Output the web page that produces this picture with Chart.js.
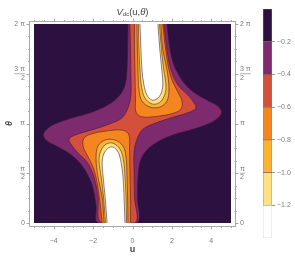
<!DOCTYPE html>
<html>
<head>
<meta charset="utf-8">
<script src="https://cdn.jsdelivr.net/npm/chart.js@4.4.0/dist/chart.umd.min.js"></script>
<style>
  html, body { margin: 0; padding: 0; background: #fff; }
  #wrap { position: relative; width: 295px; height: 259px; }
  #main { position: absolute; left: 0; top: 0; }
  #bar { position: absolute; left: 255px; top: 0; }
</style>
</head>
<body>
<div id="wrap">
  <canvas id="main" width="295" height="259"></canvas>
  <canvas id="bar" width="40" height="259"></canvas>
</div>
<script>
// axes
const uRange = [-5, 5];
const thetaRange = [0, 2 * Math.PI];
const xTicks = [-4, -2, 0, 2, 4];
const xTickLabels = ['\u22124', '\u22122', '0', '2', '4'];
const xMinorTicks = [-5, -4.5, -3.5, -3, -2.5, -1.5, -1, -0.5, 0.5, 1, 1.5, 2.5, 3, 3.5, 4.5, 5];
const yTicks = [0, Math.PI / 2, Math.PI, 3 * Math.PI / 2, 2 * Math.PI];
const yTickLabels = ['0', ['\u03c0', '2'], '\u03c0', ['3 \u03c0', '2'], '2 \u03c0'];
const yMinorTicks = [1, 2, 3, 5, 6, 7, 9, 10, 11, 13, 14, 15].map(k => k * Math.PI / 8);

// colour bar
const levels = [0, -0.2, -0.4, -0.6, -0.8, -1.0, -1.2, -1.4];
const levelTicks = [-0.2, -0.4, -0.6, -0.8, -1.0, -1.2];
const bandColors = ['#2c1140', '#7e2a6e', '#d5503b', '#f5851f', '#fbb22f', '#fde07f', '#ffffff'];

// contour regions, [u, theta]
const plotArea = [[-5, 0], [5, 0], [5, 6.283], [-5, 6.283]];
const purpleRegion = [
  [-0.23, 6.28], [-0.25, 5.46], [-0.28, 4.83], [-0.38, 4.36], [-0.68, 4.01], [-1.24, 3.73], [-2.05, 3.50],
  [-3.06, 3.32], [-3.92, 3.13], [-4.33, 2.97], [-4.53, 2.78],
  [-4.33, 2.59], [-3.87, 2.43], [-3.32, 2.24], [-2.81, 1.99], [-2.41, 1.67], [-2.05, 1.20], [-1.85, 0.56], [-1.75, 0],
  [0.23, 0], [0.25, 0.82], [0.28, 1.45], [0.38, 1.92], [0.68, 2.27], [1.24, 2.55], [2.05, 2.78],
  [3.06, 2.96], [3.92, 3.15], [4.33, 3.31], [4.53, 3.50],
  [4.33, 3.69], [3.87, 3.85], [3.32, 4.04], [2.81, 4.29], [2.41, 4.61], [2.05, 5.08], [1.85, 5.72], [1.75, 6.28]
];
const redRegion = [
  [-0.13, 6.28], [-0.10, 5.46], [-0.08, 4.67], [-0.08, 4.04], [-0.23, 3.63], [-0.53, 3.32], [-1.14, 3.13],
  [-2.05, 2.94], [-2.76, 2.81], [-3.22, 2.65],
  [-3.06, 2.43], [-2.76, 2.21], [-2.30, 1.92], [-1.95, 1.45], [-1.75, 0.82], [-1.59, 0],
  [0.13, 0], [0.10, 0.82], [0.08, 1.61], [0.08, 2.24], [0.23, 2.65], [0.53, 2.96], [1.14, 3.15],
  [2.05, 3.34], [2.76, 3.47], [3.22, 3.63],
  [3.06, 3.85], [2.76, 4.07], [2.30, 4.36], [1.95, 4.83], [1.75, 5.46], [1.59, 6.28]
];
const orangeUpper = [[0.10, 6.28], [0.10, 5.46], [0.13, 4.67], [0.15, 3.88], [0.18, 3.50], [0.48, 3.35], [1.39, 3.38], [2.10, 3.47], [2.46, 3.60], [2.51, 3.85], [2.30, 4.14], [2.00, 4.52], [1.80, 4.99], [1.65, 5.62], [1.54, 6.28]];
const orangeLower = [[-0.10, 0], [-0.10, 0.82], [-0.13, 1.61], [-0.15, 2.40], [-0.18, 2.78], [-0.48, 2.93], [-1.39, 2.90], [-2.10, 2.81], [-2.46, 2.68], [-2.51, 2.43], [-2.30, 2.14], [-2.00, 1.76], [-1.80, 1.29], [-1.65, 0.66], [-1.54, 0]];
const amberUpper = [[0.23, 6.28], [0.25, 5.46], [0.28, 4.77], [0.33, 4.20], [0.48, 3.85], [0.89, 3.66], [1.39, 3.66], [1.75, 3.85], [1.85, 4.23], [1.75, 4.83], [1.54, 5.46], [1.44, 6.28]];
const amberLower = [[-0.23, 0], [-0.25, 0.82], [-0.28, 1.51], [-0.33, 2.08], [-0.48, 2.43], [-0.89, 2.62], [-1.39, 2.62], [-1.75, 2.43], [-1.85, 2.05], [-1.75, 1.45], [-1.54, 0.82], [-1.44, 0]];
const paleUpper = [[0.30, 6.28], [0.33, 5.46], [0.38, 4.83], [0.46, 4.29], [0.63, 3.95], [0.99, 3.76], [1.34, 3.79], [1.59, 3.98], [1.70, 4.29], [1.59, 4.83], [1.47, 5.46], [1.37, 6.28]];
const paleLower = [[-0.30, 0], [-0.33, 0.82], [-0.38, 1.45], [-0.46, 1.99], [-0.63, 2.33], [-0.99, 2.52], [-1.34, 2.49], [-1.59, 2.30], [-1.70, 1.99], [-1.59, 1.45], [-1.47, 0.82], [-1.37, 0]];
const whiteUpper = [[0.38, 6.28], [0.43, 5.46], [0.48, 4.83], [0.58, 4.36], [0.73, 4.04], [0.99, 3.88], [1.24, 3.92], [1.44, 4.07], [1.54, 4.36], [1.49, 4.83], [1.39, 5.46], [1.29, 6.28]];
const whiteLower = [[-0.38, 0], [-0.43, 0.82], [-0.48, 1.45], [-0.58, 1.92], [-0.73, 2.24], [-0.99, 2.40], [-1.24, 2.36], [-1.44, 2.21], [-1.54, 1.92], [-1.49, 1.45], [-1.39, 0.82], [-1.29, 0]];

const FONT = 'Liberation Sans';
const tickFont = { family: FONT, size: 7 };
const tickColor = '#7a7a7a';
const lineColor = 'rgba(60,25,45,0.7)';

function region(points, color, order, tension) {
  return {
    data: points.map(p => ({ x: p[0], y: p[1] })),
    showLine: true,
    fill: 'shape',
    backgroundColor: color,
    borderColor: tension === 0 ? color : lineColor,
    borderWidth: tension === 0 ? 0 : 0.8,
    pointRadius: 0,
    tension: tension,
    order: order
  };
}

const frame = {
  id: 'frame',
  afterDraw(chart) {
    const { ctx, chartArea: a, scales } = chart;
    const L = a.left - 4.5, R = a.right + 4.5, T = a.top - 2.5, B = a.bottom + 3.5;
    ctx.save();
    ctx.strokeStyle = '#a8a8a8';
    ctx.lineWidth = 1;
    ctx.strokeRect(L, T, R - L, B - T);
    ctx.beginPath();
    xTicks.concat(xMinorTicks).forEach(v => {
      const x = Math.round(scales.x.getPixelForValue(v)) + 0.5;
      const len = xTicks.includes(v) ? 3 : 1.5;
      ctx.moveTo(x, B); ctx.lineTo(x, B + len);
      ctx.moveTo(x, T); ctx.lineTo(x, T - len);
    });
    yTicks.concat(yMinorTicks).forEach(v => {
      const y = Math.round(scales.y.getPixelForValue(v)) + 0.5;
      const len = yTicks.includes(v) ? 3 : 1.5;
      ctx.moveTo(L, y); ctx.lineTo(L - len, y);
      ctx.moveTo(R, y); ctx.lineTo(R + len, y);
    });
    ctx.stroke();

    // fraction bars of the pi/2 labels
    ctx.font = '7px ' + FONT;
    ctx.strokeStyle = tickColor;
    ctx.lineWidth = 0.6;
    yTickLabels.forEach((lab, i) => {
      if (!Array.isArray(lab)) return;
      const y = scales.y.getPixelForValue(yTicks[i]);
      const w = ctx.measureText(lab[0]).width;
      const xl = a.left - 9;
      const xr = a.right + 9;
      ctx.beginPath();
      ctx.moveTo(xl - w, y); ctx.lineTo(xl, y);
      ctx.moveTo(xr, y); ctx.lineTo(xr + w, y);
      ctx.stroke();
    });

    // plot title V_dc(u,theta)
    const cx = (a.left + a.right) / 2, cy = 12;
    const parts = [
      ['italic 9.5px ' + FONT, 'V', 0],
      ['6px ' + FONT, 'dc', 2.5],
      ['9.5px ' + FONT, '(u,', 0],
      ['italic 9.5px ' + FONT, '\u03b8', 0],
      ['9.5px ' + FONT, ')', 0]
    ];
    let total = 0;
    parts.forEach(p => { ctx.font = p[0]; total += ctx.measureText(p[1]).width; });
    let x = cx - total / 2;
    ctx.fillStyle = '#444';
    ctx.textBaseline = 'middle';
    parts.forEach(p => {
      ctx.font = p[0];
      ctx.fillText(p[1], x, cy + p[2]);
      x += ctx.measureText(p[1]).width;
    });
    ctx.restore();
  }
};

function yAxis(position, width) {
  return {
    position: position,
    min: thetaRange[0],
    max: thetaRange[1],
    afterBuildTicks: s => { s.ticks = yTicks.map(v => ({ value: v })); },
    afterFit: s => { s.width = width; },
    grid: { drawOnChartArea: false, tickLength: 7, color: 'rgba(0,0,0,0)' },
    border: { display: false },
    ticks: { padding: 2, font: tickFont, color: tickColor, callback: (v, i) => yTickLabels[i] },
    title: position === 'left'
      ? { display: true, text: '\u03b8', color: '#444', font: { family: FONT, size: 9, style: 'italic', weight: 'bold' }, padding: { top: 4, bottom: 0 } }
      : { display: false }
  };
}

new Chart(document.getElementById('main'), {
  type: 'scatter',
  data: {
    datasets: [
      region(plotArea, bandColors[0], 10, 0),
      region(purpleRegion, bandColors[1], 9, 0.35),
      region(redRegion, bandColors[2], 8, 0.35),
      region(orangeUpper, bandColors[3], 7, 0.35),
      region(orangeLower, bandColors[3], 7, 0.35),
      region(amberUpper, bandColors[4], 6, 0.35),
      region(amberLower, bandColors[4], 6, 0.35),
      region(paleUpper, bandColors[5], 5, 0.35),
      region(paleLower, bandColors[5], 5, 0.35),
      region(whiteUpper, bandColors[6], 4, 0.35),
      region(whiteLower, bandColors[6], 4, 0.35)
    ]
  },
  options: {
    responsive: false,
    animation: false,
    layout: { padding: { top: 24, left: 0, right: 0, bottom: 0 } },
    plugins: { legend: { display: false }, tooltip: { enabled: false } },
    scales: {
      x: {
        type: 'linear',
        min: uRange[0],
        max: uRange[1],
        afterBuildTicks: s => { s.ticks = xTicks.map(v => ({ value: v })); },
        afterFit: s => { s.height = 36; },
        grid: { drawOnChartArea: false, tickLength: 7, color: 'rgba(0,0,0,0)' },
        border: { display: false },
        ticks: { padding: 7, font: tickFont, color: tickColor, maxRotation: 0, autoSkip: false, callback: (v, i) => xTickLabels[i] },
        title: { display: true, text: 'u', color: '#444', font: { family: FONT, size: 9, weight: 'bold' }, padding: { top: 0, bottom: 4 } }
      },
      y: yAxis('left', 34),
      y2: yAxis('right', 64)
    }
  },
  plugins: [frame]
});

new Chart(document.getElementById('bar'), {
  type: 'bar',
  data: {
    labels: ['V'],
    datasets: bandColors.map((c, i) => ({
      data: [[levels[i + 1], levels[i]]],
      backgroundColor: c,
      borderColor: i === bandColors.length - 1 ? '#d0d0d0' : 'rgba(80,40,40,0.6)',
      borderWidth: 0.7,
      borderSkipped: false,
      barPercentage: 1,
      categoryPercentage: 1,
      grouped: false
    }))
  },
  options: {
    responsive: false,
    animation: false,
    layout: { padding: { left: 8, top: 9, bottom: 21, right: 0 } },
    plugins: { legend: { display: false }, tooltip: { enabled: false } },
    scales: {
      x: { display: false },
      y: {
        position: 'right',
        min: levels[levels.length - 1],
        max: levels[0],
        afterBuildTicks: s => { s.ticks = levelTicks.map(v => ({ value: v })); },
        afterFit: s => { s.width = 23; },
        grid: { drawOnChartArea: false, tickLength: 3, color: '#999' },
        border: { display: false },
        ticks: { padding: 2, font: tickFont, color: tickColor, callback: v => '\u2212' + Math.abs(v).toFixed(1) }
      }
    }
  }
});
</script>
</body>
</html>
